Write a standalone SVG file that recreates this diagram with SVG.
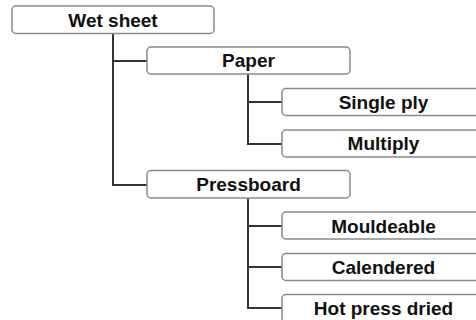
<svg xmlns="http://www.w3.org/2000/svg" width="476" height="320" viewBox="0 0 476 320">
<style>
.box{fill:#fff;stroke:#8a8a8a;stroke-width:1.5}
.lbl{font-family:"Liberation Sans",Arial,sans-serif;font-weight:bold;font-size:19px;fill:#111;text-anchor:middle}
.ln{fill:none;stroke:#333;stroke-width:2}
</style>
<rect width="476" height="320" fill="#fff"/>
<g id="connectors">
<path class="ln" d="M113,34 V185 H147 M113,61 H147"/>
<path class="ln" d="M248,74 V144 H282 M248,102 H282"/>
<path class="ln" d="M248,198 V308 H282 M248,226 H282 M248,267 H282"/>
</g>
<g id="wet-sheet"><rect class="box" x="12" y="6" width="202" height="27.5" rx="4"/><text class="lbl" x="113" y="26.5">Wet sheet</text></g>
<g id="paper"><rect class="box" x="147" y="47" width="203" height="27" rx="4"/><text class="lbl" x="248.5" y="67">Paper</text></g>
<g id="single-ply"><rect class="box" x="282" y="88.5" width="205" height="27" rx="4"/><text class="lbl" x="383.5" y="108.5">Single ply</text></g>
<g id="multiply"><rect class="box" x="282" y="130" width="205" height="27" rx="4"/><text class="lbl" x="383.5" y="150">Multiply</text></g>
<g id="pressboard"><rect class="box" x="147" y="170.5" width="203" height="27.5" rx="4"/><text class="lbl" x="248.5" y="191">Pressboard</text></g>
<g id="mouldeable"><rect class="box" x="282" y="212" width="205" height="27" rx="4"/><text class="lbl" x="383.5" y="232.5">Mouldeable</text></g>
<g id="calendered"><rect class="box" x="282" y="253.5" width="205" height="27" rx="4"/><text class="lbl" x="383.5" y="273.5">Calendered</text></g>
<g id="hot-press-dried"><rect class="box" x="282" y="294.5" width="205" height="28" rx="4"/><text class="lbl" x="383.5" y="315">Hot press dried</text></g>
</svg>
